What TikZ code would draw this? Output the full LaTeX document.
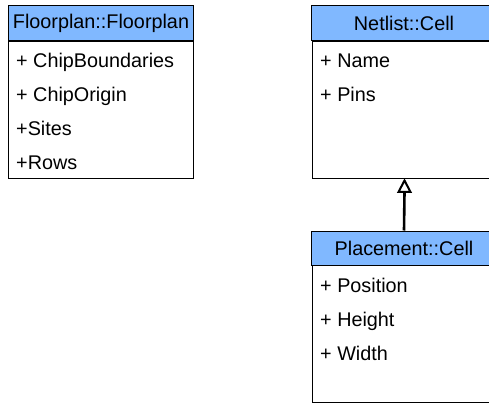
\documentclass[tikz,border=0pt]{standalone}
\usepackage{fontspec}
\setmainfont{Liberation Sans}
\usetikzlibrary{calc}
\definecolor{hdrblue}{HTML}{80B8FF}
\begin{document}
\begin{tikzpicture}[x=1pt,y=-1pt,
  umlfont/.style={font=\fontsize{19.8}{24}\selectfont},
  hdr/.style={draw=black, fill=hdrblue, line width=1pt, minimum width=185pt,
    minimum height=35pt, inner sep=0pt, umlfont},
  body/.style={draw=black, fill=white, line width=1pt, minimum width=185pt,
    inner sep=0pt, anchor=north west},
  attr/.style={anchor=base west, inner sep=0pt, umlfont},
  inherit/.style={line width=2.6pt},
  openhead/.style={line width=2pt, fill=white, line join=miter}
]
\useasboundingbox (0,0) rectangle (489,403);
\clip (0,0) rectangle (489,403);

% Floorplan::Floorplan
\node[hdr] (fpH) at (101,23.5) {Floorplan::Floorplan};
\node[body, minimum height=137pt] (fpB) at (8,41) {};
\node[attr] (fpA1) at (16,67.5) {+ ChipBoundaries};
\node[attr] (fpA2) at (16,101.5) {+ ChipOrigin};
\node[attr] (fpA3) at (16,136) {+Sites};
\node[attr] (fpA4) at (16,170) {+Rows};

% Netlist::Cell
\node[hdr] (ncH) at (404,23.5) {Netlist::Cell};
\node[body, minimum height=137pt] (ncB) at (311.5,41) {};
\node[attr] (ncA1) at (320,67.5) {+ Name};
\node[attr] (ncA2) at (320,101.5) {+ Pins};

% Placement::Cell
\node[hdr, minimum height=34pt] (pcH) at (404,248) {Placement::Cell};
\node[body, minimum height=137pt] (pcB) at (311.5,265) {};
\node[attr] (pcA1) at (320,292) {+ Position};
\node[attr] (pcA2) at (320,326) {+ Height};
\node[attr] (pcA3) at (320,360) {+ Width};

% generalisation: line plus hollow triangle head
\coordinate (tip) at ($(ncB.south)+(0,1.5)$);
\coordinate (hbase) at ($(tip)+(0,11.5)$);
\draw[inherit] (pcH.north) -- (hbase);
\draw[openhead] (tip) -- ($(hbase)+(-6,0)$) -- ($(hbase)+(6,0)$) -- cycle;
\end{tikzpicture}
\end{document}
